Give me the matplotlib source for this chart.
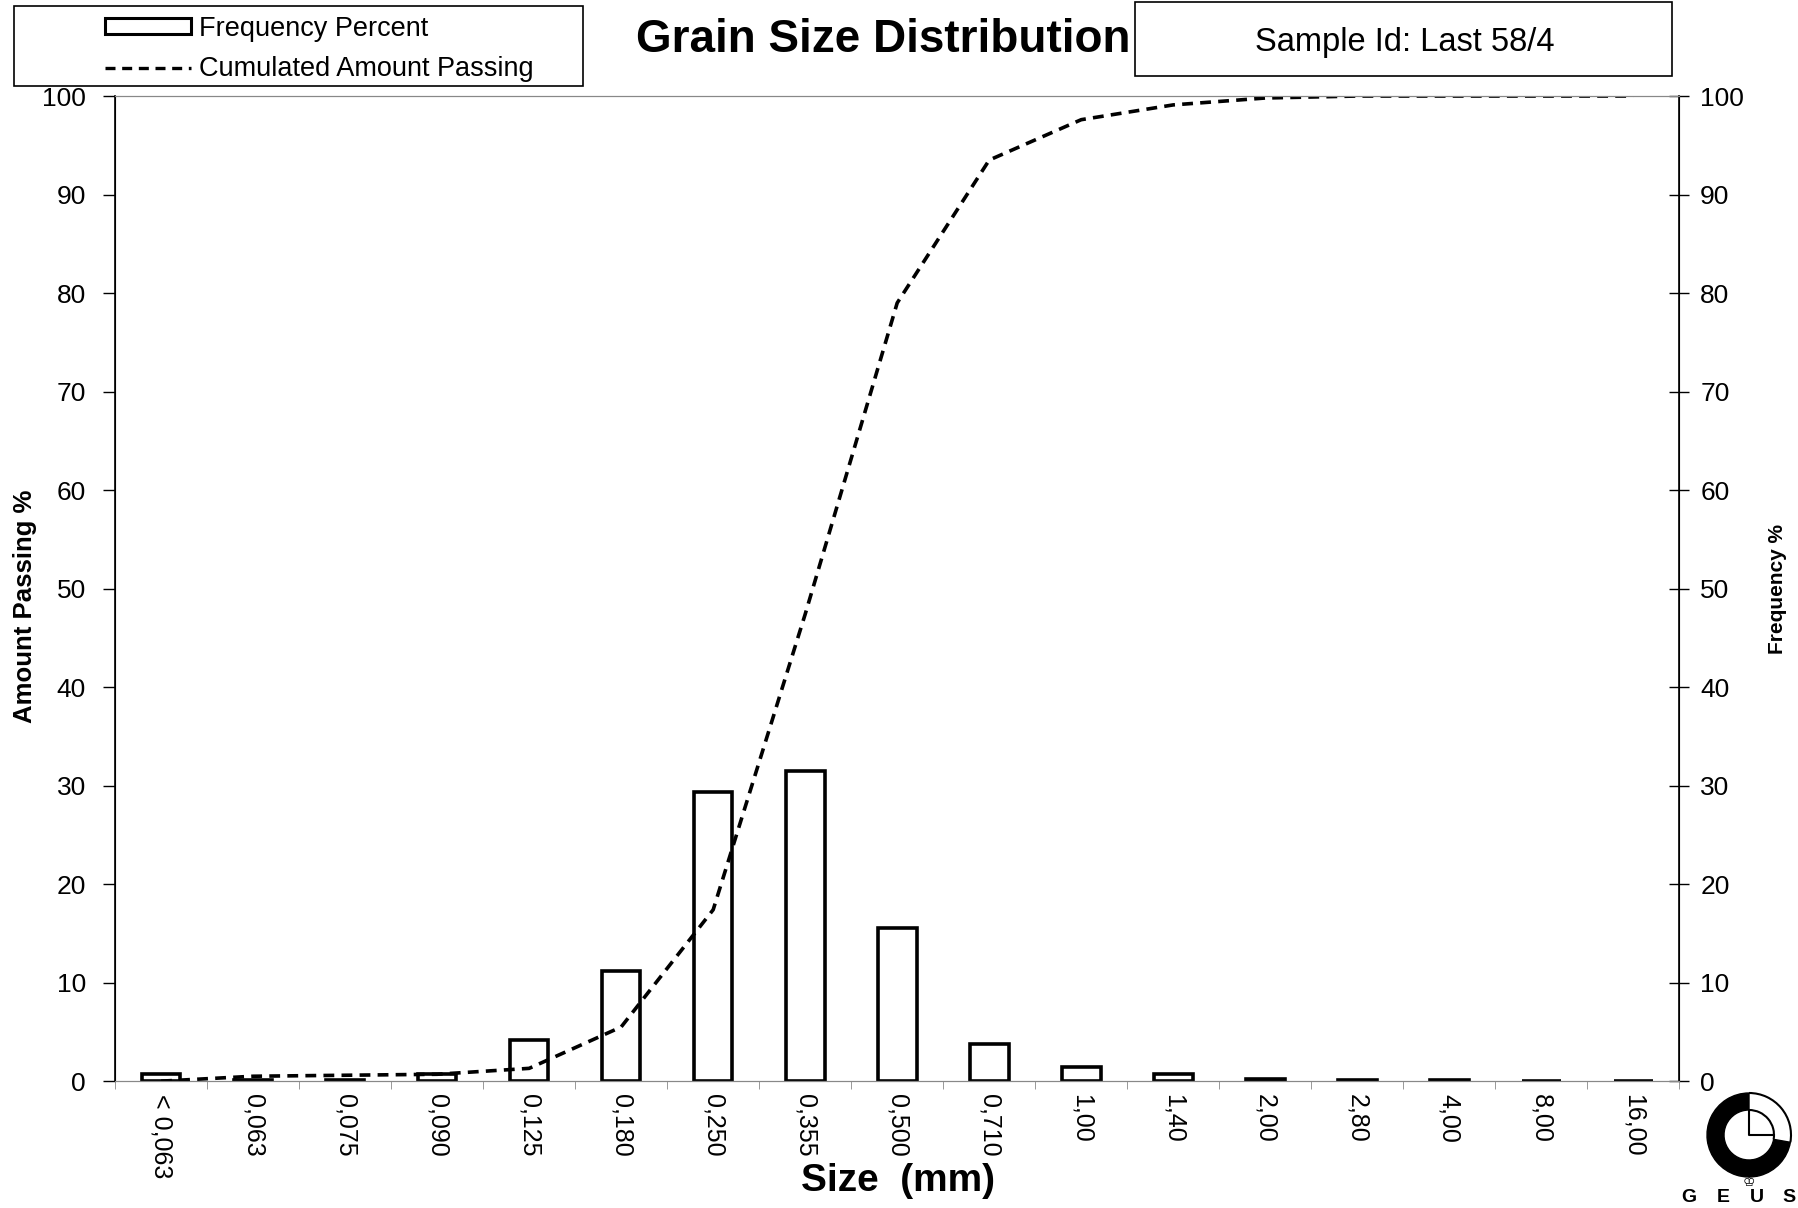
import numpy as np
import matplotlib.pyplot as plt
from matplotlib.patches import Rectangle, Wedge, Arc
from matplotlib.lines import Line2D

plt.rcParams['font.family'] = ['Liberation Sans', 'DejaVu Sans']

sizes = ['< 0,063', '0,063', '0,075', '0,090', '0,125', '0,180', '0,250', '0,355',
         '0,500', '0,710', '1,00', '1,40', '2,00', '2,80', '4,00', '8,00', '16,00']
frequency = [0.7, 0.1, 0.1, 0.7, 4.2, 11.2, 29.4, 31.5, 15.5, 3.8, 1.45, 0.7,
             0.2, 0.15, 0.15, 0.0, 0.0]
cumulated = [0.0, 0.5, 0.6, 0.7, 1.3, 5.5, 17.4, 47.4, 79.0, 93.5, 97.6, 99.1,
             99.8, 100.0, 100.0, 100.0, 100.0]

W, H = 1798, 1208
fig = plt.figure(figsize=(W / 100, H / 100), dpi=100)
ax = fig.add_axes([0.064, 0.105, 0.870, 0.8155])
ax2 = ax.twinx()
ax.set_zorder(ax2.get_zorder() + 1)
ax.patch.set_visible(False)

x = np.arange(len(sizes))
ax2.bar(x, frequency, width=0.42, color='white', edgecolor='black', linewidth=2.6)
ax.plot(x, cumulated, color='black', linestyle=(0, (3, 2)), linewidth=2.6)

for a in (ax, ax2):
    a.set_xlim(-0.5, len(sizes) - 0.5)
    a.set_ylim(0, 100)
    a.set_yticks(range(0, 101, 10))

ax.tick_params(axis='y', direction='out', length=9, width=1, labelsize=19, pad=12)
ax2.tick_params(axis='y', direction='inout', length=14, width=1, labelsize=19, pad=8)
ax.set_xticks(x)
ax.set_xticklabels(sizes, rotation=270, fontsize=18)
ax.tick_params(axis='x', length=0, pad=9)
ax.set_xticks(np.arange(-0.5, len(sizes), 1), minor=True)
ax.tick_params(axis='x', which='minor', length=6, color='#888888', direction='out')

for s in ('top', 'bottom'):
    ax.spines[s].set_color('#888888')
    ax2.spines[s].set_color('#888888')
ax.spines['left'].set_linewidth(1.2)
ax2.spines['right'].set_linewidth(1.2)

ax.set_ylabel('Amount Passing %', fontsize=18.5, fontweight='bold')
ax.yaxis.set_label_coords(-0.050, 0.482)
ax2.set_ylabel('Frequency %', fontsize=15, fontweight='bold')
ax2.yaxis.set_label_coords(1.057, 0.5)
fig.text(898 / W, 1 - 1181 / H, 'Size  (mm)', fontsize=28, fontweight='bold',
         ha='center', va='center')

fig.text(0.491, 1 - 40 / H, 'Grain Size Distribution', fontsize=33, fontweight='bold',
         ha='center', va='center')

# legend box
fig.patches.append(Rectangle((14 / W, 1 - 86 / H), 569 / W, 80 / H,
                             transform=fig.transFigure, facecolor='white',
                             edgecolor='black', linewidth=1.2, zorder=3))
handles = [Rectangle((0, 0), 1, 1, facecolor='white', edgecolor='black', linewidth=2.2),
           Line2D([], [], color='black', linestyle=(0, (3, 2)), linewidth=2.4)]
leg = fig.legend(handles, ['Frequency Percent', 'Cumulated Amount Passing'],
                 loc='upper left', bbox_to_anchor=(91 / W, 1 - 2 / H),
                 frameon=False, fontsize=19.5, handlelength=3.2, handleheight=0.5,
                 handletextpad=0.3, labelspacing=0.55, borderpad=0.0)
leg.set_zorder(4)

# sample box
fig.patches.append(Rectangle((1135 / W, 1 - 76 / H), 537 / W, 74 / H,
                             transform=fig.transFigure, facecolor='white',
                             edgecolor='black', linewidth=1.2, zorder=3))
fig.text(1405 / W, 1 - 43 / H, 'Sample Id: Last 58/4', fontsize=23.5,
         ha='center', va='center', zorder=4)

# GEUS logo
lax = fig.add_axes([1680 / W, 0, 118 / W, 118 / H])
lax.set_xlim(0, 118)
lax.set_ylim(0, 118)
lax.axis('off')
cx, cy = 69, 73
lax.add_patch(Wedge((cx, cy), 42, 90, 350, width=17, color='black'))
lax.add_patch(Arc((cx, cy), 84, 84, theta1=350, theta2=90, color='black', lw=1.5))
lax.add_patch(Arc((cx, cy), 50, 50, theta1=350, theta2=90, color='black', lw=1.5))
lax.plot([cx, cx, cx + 25], [cy + 25, cy, cy], color='black', lw=1.5)
lax.text(cx, 26, '\u2654', fontsize=10, ha='center', va='center', family='DejaVu Sans')
for lx, letter in zip([9, 43, 77, 109], 'GEUS'):
    lax.text(lx, 10, letter, fontsize=14, fontweight='bold', ha='center', va='center')

fig.savefig('out.png', dpi=100)
